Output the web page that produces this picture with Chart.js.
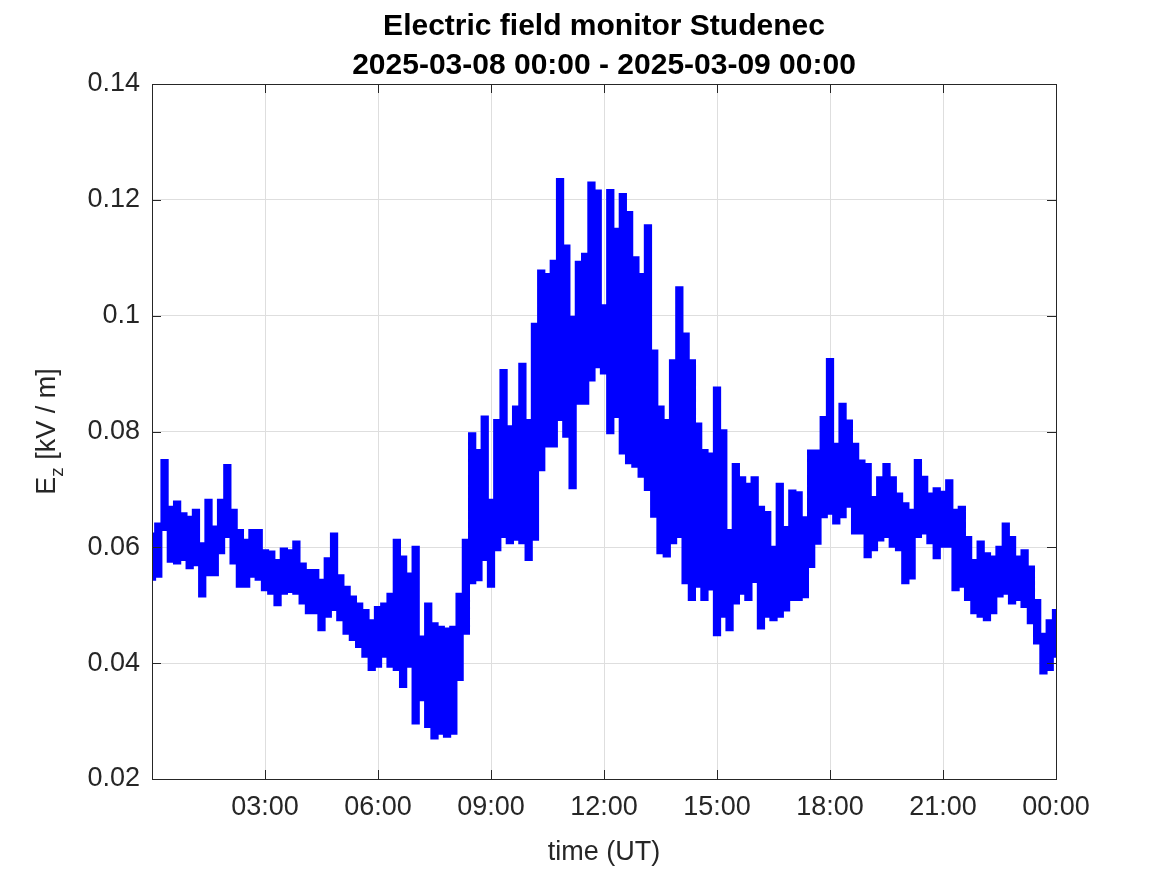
<!DOCTYPE html>
<html>
<head>
<meta charset="utf-8">
<title>Electric field monitor Studenec</title>
<script src="https://cdn.jsdelivr.net/npm/chart.js@4.4.1/dist/chart.umd.min.js"></script>
<style>
  html, body { margin: 0; padding: 0; background: #ffffff; }
  #wrap { width: 1167px; height: 875px; }
</style>
</head>
<body>
<div id="wrap"><canvas id="chart"></canvas></div>
<script>
// Title lines
const titleLines = ['Electric field monitor Studenec', '2025-03-08 00:00 - 2025-03-09 00:00'];

// Samples every 10 minutes from 00:00 to 24:00 (minutes since start)
const stepMinutes = 10;

// Upper envelope of E_z (kV/m) at each 10-minute step
const hiEnvelope = [
  0.0624, 0.0641, 0.0751, 0.0670, 0.0679, 0.0659, 0.0653, 0.0665, 0.0607, 0.0682,
  0.0636, 0.0682, 0.0742, 0.0665, 0.0630, 0.0613, 0.0630, 0.0630, 0.0595, 0.0593,
  0.0578, 0.0598, 0.0595, 0.0610, 0.0572, 0.0561, 0.0561, 0.0544, 0.0581, 0.0624,
  0.0552, 0.0532, 0.0515, 0.0503, 0.0492, 0.0474, 0.0497, 0.0503, 0.0520, 0.0613,
  0.0584, 0.0555, 0.0601, 0.0446, 0.0503, 0.0469, 0.0463, 0.0460, 0.0463, 0.0520,
  0.0613, 0.0797, 0.0768, 0.0826, 0.0682, 0.0820, 0.0906, 0.0809, 0.0843, 0.0917,
  0.0820, 0.0986, 0.1078, 0.1072, 0.1095, 0.1236, 0.1121, 0.0998, 0.1093, 0.1107,
  0.1230, 0.1216, 0.1018, 0.1217, 0.1150, 0.1210, 0.1179, 0.1101, 0.1072, 0.1156,
  0.0940, 0.0843, 0.0820, 0.0923, 0.1049, 0.0969, 0.0923, 0.0814, 0.0768, 0.0762,
  0.0876, 0.0802, 0.0630, 0.0744, 0.0721, 0.0710, 0.0721, 0.0670, 0.0661, 0.0601,
  0.0710, 0.0635, 0.0698, 0.0695, 0.0652, 0.0767, 0.0767, 0.0825, 0.0925, 0.0779,
  0.0848, 0.0819, 0.0779, 0.0750, 0.0744, 0.0687, 0.0721, 0.0744, 0.0721, 0.0693,
  0.0676, 0.0665, 0.0751, 0.0722, 0.0693, 0.0702, 0.0696, 0.0716, 0.0665, 0.0670,
  0.0618, 0.0578, 0.0610, 0.0590, 0.0584, 0.0601, 0.0641, 0.0618, 0.0584, 0.0595,
  0.0567, 0.0509, 0.0451, 0.0474, 0.0492
];

// Lower envelope of E_z (kV/m) at each 10-minute step
const loEnvelope = [
  0.0544, 0.0549, 0.0630, 0.0575, 0.0572, 0.0578, 0.0564, 0.0569, 0.0515, 0.0552,
  0.0552, 0.0590, 0.0618, 0.0572, 0.0532, 0.0532, 0.0549, 0.0544, 0.0526, 0.0520,
  0.0500, 0.0520, 0.0523, 0.0520, 0.0503, 0.0486, 0.0486, 0.0457, 0.0480, 0.0492,
  0.0474, 0.0451, 0.0440, 0.0428, 0.0411, 0.0388, 0.0394, 0.0411, 0.0394, 0.0388,
  0.0359, 0.0394, 0.0296, 0.0336, 0.0290, 0.0270, 0.0278, 0.0273, 0.0278, 0.0371,
  0.0451, 0.0538, 0.0543, 0.0578, 0.0532, 0.0595, 0.0618, 0.0607, 0.0613, 0.0607,
  0.0578, 0.0613, 0.0733, 0.0774, 0.0774, 0.0820, 0.0791, 0.0702, 0.0848, 0.0848,
  0.0888, 0.0911, 0.0900, 0.0797, 0.0825, 0.0762, 0.0745, 0.0739, 0.0722, 0.0699,
  0.0653, 0.0590, 0.0584, 0.0607, 0.0618, 0.0538, 0.0509, 0.0532, 0.0509, 0.0527,
  0.0448, 0.0480, 0.0457, 0.0503, 0.0520, 0.0509, 0.0540, 0.0460, 0.0480, 0.0474,
  0.0480, 0.0491, 0.0509, 0.0509, 0.0514, 0.0566, 0.0606, 0.0652, 0.0658, 0.0641,
  0.0652, 0.0670, 0.0624, 0.0624, 0.0583, 0.0595, 0.0612, 0.0618, 0.0601, 0.0595,
  0.0538, 0.0546, 0.0618, 0.0624, 0.0607, 0.0581, 0.0601, 0.0601, 0.0526, 0.0532,
  0.0509, 0.0486, 0.0480, 0.0474, 0.0486, 0.0515, 0.0520, 0.0503, 0.0509, 0.0497,
  0.0469, 0.0434, 0.0382, 0.0388, 0.0411
];

// Axis ticks
const xTickMinutes = [0, 180, 360, 540, 720, 900, 1080, 1260, 1440];
const xTickLabels  = ['', '03:00', '06:00', '09:00', '12:00', '15:00', '18:00', '21:00', '00:00'];
const yTicks       = [0.02, 0.04, 0.06, 0.08, 0.1, 0.12, 0.14];
const yTickLabels  = ['0.02', '0.04', '0.06', '0.08', '0.1', '0.12', '0.14'];

// Envelope points (one per 10-minute window)
const loPoints = loEnvelope.map((v, i) => ({ x: i * stepMinutes, y: v }));
const hiPoints = hiEnvelope.map((v, i) => ({ x: i * stepMinutes, y: v }));

const FONT = '"Liberation Sans", Arial, Helvetica, sans-serif';
const AXIS_COLOR = '#262626';
const TRACE_COLOR = '#0000ff';

// Box, inward ticks and text labels (MATLAB-like)
const matlabFrame = {
  id: 'matlabFrame',
  afterDatasetsDraw(chart) {
    const ctx = chart.ctx;
    const a = chart.chartArea;
    const xs = chart.scales.x;
    const ys = chart.scales.y;
    const tickLen = 9;
    ctx.save();
    ctx.strokeStyle = AXIS_COLOR;
    ctx.lineWidth = 1;
    ctx.beginPath();
    xTickMinutes.forEach(v => {
      const px = Math.round(xs.getPixelForValue(v)) + 0.5;
      ctx.moveTo(px, a.bottom); ctx.lineTo(px, a.bottom - tickLen);
      ctx.moveTo(px, a.top); ctx.lineTo(px, a.top + tickLen);
    });
    yTicks.forEach(v => {
      const py = Math.round(ys.getPixelForValue(v)) + 0.5;
      ctx.moveTo(a.left, py); ctx.lineTo(a.left + tickLen, py);
      ctx.moveTo(a.right, py); ctx.lineTo(a.right - tickLen, py);
    });
    ctx.stroke();
    ctx.strokeRect(Math.round(a.left) + 0.5, Math.round(a.top) + 0.5,
                   Math.round(a.right - a.left), Math.round(a.bottom - a.top));
    ctx.restore();
  },
  afterDraw(chart) {
    const ctx = chart.ctx;
    const a = chart.chartArea;
    const cx = (a.left + a.right) / 2;
    ctx.save();
    // Title
    ctx.fillStyle = '#000000';
    ctx.font = 'bold 30px ' + FONT;
    ctx.textAlign = 'center';
    ctx.textBaseline = 'alphabetic';
    ctx.fillText(titleLines[0], cx, 35);
    ctx.fillText(titleLines[1], cx, 74);
    // X axis title
    ctx.fillStyle = AXIS_COLOR;
    ctx.font = '27px ' + FONT;
    ctx.fillText('time (UT)', cx, 860);
    // Y axis title with subscript: E_z [kV / m]
    const cy = (a.top + a.bottom) / 2;
    const mainFont = '27px ' + FONT;
    const subFont = '19px ' + FONT;
    ctx.font = mainFont;
    const wE = ctx.measureText('E').width;
    const wRest = ctx.measureText(' [kV / m]').width;
    ctx.font = subFont;
    const wZ = ctx.measureText('z').width;
    const total = wE + wZ + wRest;
    ctx.translate(55, cy);
    ctx.rotate(-Math.PI / 2);
    ctx.textAlign = 'left';
    const x0 = -total / 2;
    ctx.font = mainFont;
    ctx.fillText('E', x0, 0);
    ctx.font = subFont;
    ctx.fillText('z', x0 + wE, 8);
    ctx.font = mainFont;
    ctx.fillText(' [kV / m]', x0 + wE + wZ, 0);
    ctx.restore();
  }
};

new Chart(document.getElementById('chart'), {
  type: 'line',
  data: {
    datasets: [
      {
        label: 'E_z min',
        data: loPoints,
        borderColor: TRACE_COLOR,
        borderWidth: 2,
        pointRadius: 0,
        stepped: 'middle',
        fill: false
      },
      {
        label: 'E_z max',
        data: hiPoints,
        borderColor: TRACE_COLOR,
        backgroundColor: TRACE_COLOR,
        borderWidth: 2,
        pointRadius: 0,
        stepped: 'middle',
        fill: '-1'
      }
    ]
  },
  options: {
    responsive: true,
    maintainAspectRatio: false,
    animation: false,
    layout: { padding: { left: 0, right: 111, top: 84, bottom: 0 } },
    plugins: {
      legend: { display: false },
      title: { display: false },
      tooltip: { enabled: false },
      filler: { propagate: false }
    },
    scales: {
      x: {
        type: 'linear',
        min: 0,
        max: 1440,
        afterFit: scale => { scale.height = 96; },
        afterBuildTicks: scale => { scale.ticks = xTickMinutes.map(v => ({ value: v })); },
        ticks: {
          autoSkip: false,
          maxRotation: 0,
          padding: 12,
          color: AXIS_COLOR,
          font: { family: FONT, size: 27 },
          callback: (value) => xTickLabels[xTickMinutes.indexOf(value)]
        },
        grid: { color: '#dedede', lineWidth: 1, drawTicks: false },
        border: { display: false }
      },
      y: {
        type: 'linear',
        min: 0.02,
        max: 0.14,
        afterFit: scale => { scale.width = 152; },
        afterBuildTicks: scale => { scale.ticks = yTicks.map(v => ({ value: v })); },
        ticks: {
          padding: 12,
          color: AXIS_COLOR,
          font: { family: FONT, size: 27 },
          callback: (value) => yTickLabels[yTicks.findIndex(v => Math.abs(v - value) < 1e-9)]
        },
        grid: { color: '#dedede', lineWidth: 1, drawTicks: false },
        border: { display: false }
      }
    }
  },
  plugins: [matlabFrame]
});
</script>
</body>
</html>
